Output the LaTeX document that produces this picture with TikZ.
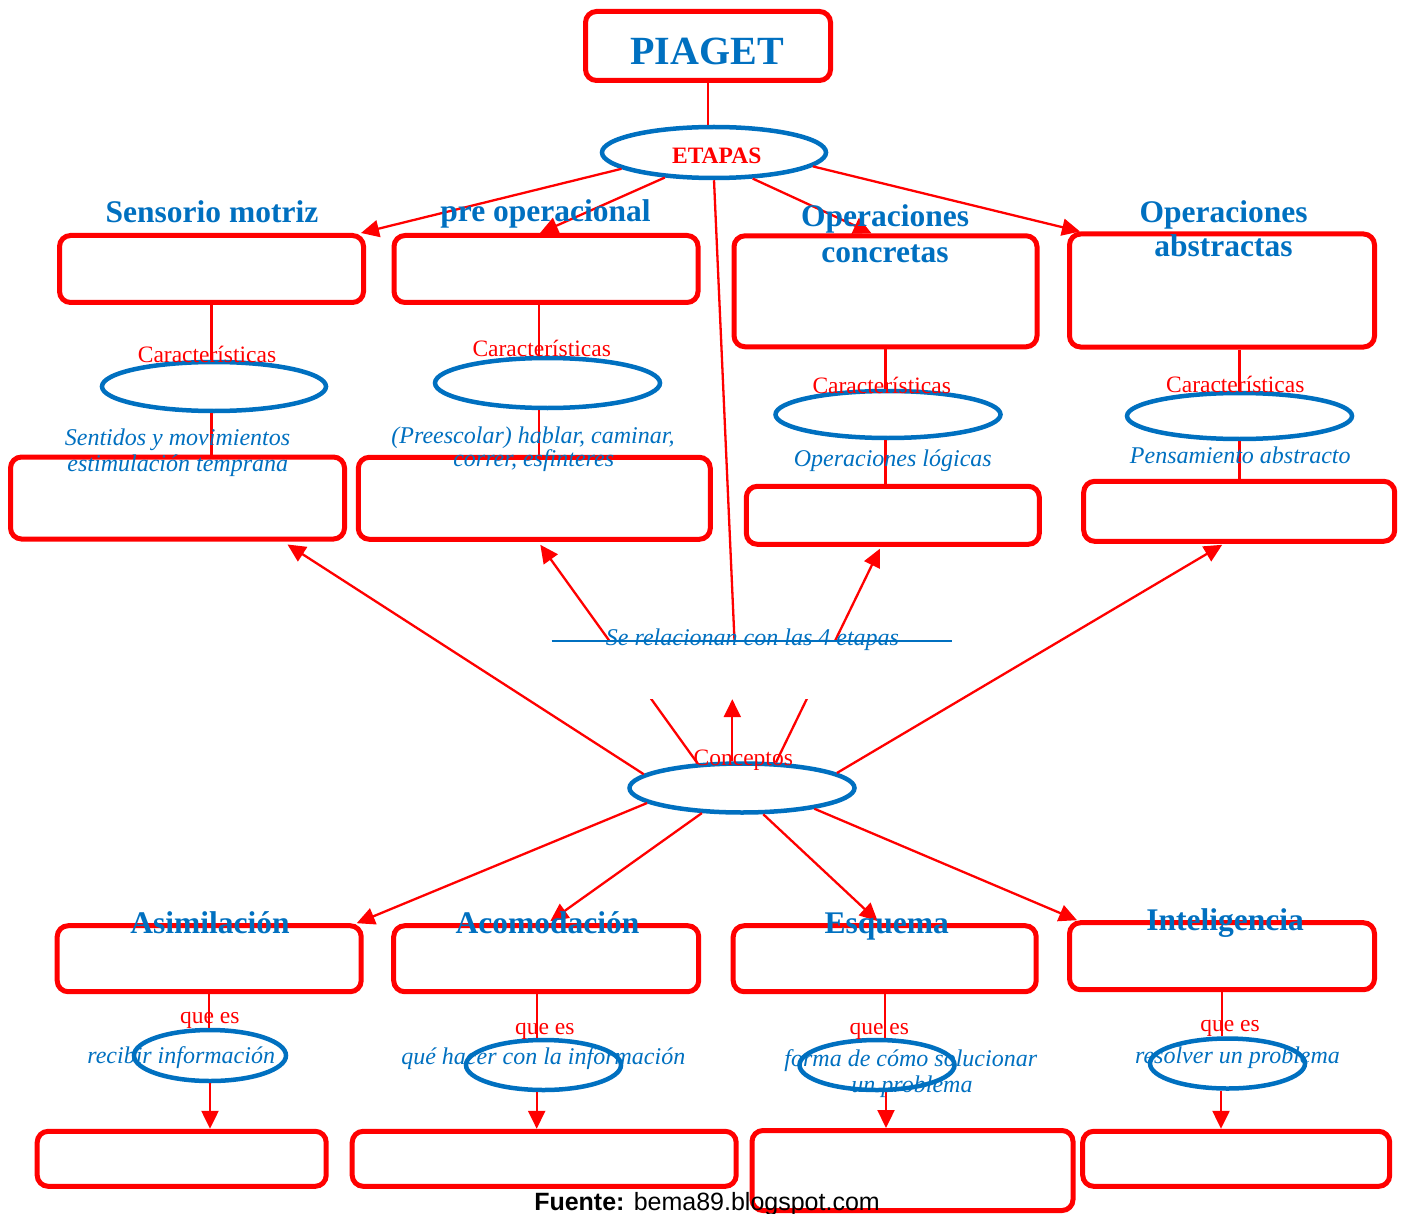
\documentclass[tikz,border=0pt]{standalone}
\usepackage{fontspec}
\setmainfont{Liberation Serif}
\newfontfamily\arialfont{Liberation Sans}
\usetikzlibrary{shapes.geometric,arrows.meta,calc}
\definecolor{wblue}{RGB}{0,112,192}
\definecolor{wred}{RGB}{255,0,0}
\begin{document}
\begin{tikzpicture}[x=1pt,y=-1pt,
 box/.style={draw=wred, line width=5pt, rounded corners=11pt, inner sep=0pt},
 ell/.style={ellipse, draw=wblue, line width=4.5pt, inner sep=0pt},
 conn/.style={draw=wred, line width=2.3pt},
 arr/.style={conn, -{Triangle[length=18pt,width=17pt]}},
 ttl/.style={text=wblue, font=\fontsize{31.5}{34}\selectfont\bfseries, inner sep=0pt, anchor=base},
 lbl/.style={text=wred, font=\fontsize{23.5}{26}\selectfont, inner sep=0pt, anchor=base},
 desc/.style={text=wblue, font=\fontsize{24}{27}\selectfont\itshape, inner sep=0pt, anchor=base},
]
\useasboundingbox[fill=white] (0,0) rectangle (1404,1214);

% ---------- top ----------
\node[box, minimum width=245, minimum height=69] (piaget) at (708,46) {};
\node[ell, minimum width=224, minimum height=51] (etapas) at (714,152.5) {};

% stage boxes
\node[box, minimum width=304, minimum height=67] (sens) at (211.5,269) {};
\node[box, minimum width=304, minimum height=67] (preop) at (546,269) {};
\node[box, minimum width=303, minimum height=111] (opc) at (885.5,291.3) {};
\node[box, minimum width=305, minimum height=113] (opa) at (1222,290.5) {};

% characteristic ellipses
\node[ell, minimum width=224, minimum height=49] (sell) at (214,386.5) {};
\node[ell, minimum width=225, minimum height=50] (pell) at (547.5,383) {};
\node[ell, minimum width=225, minimum height=47] (cell) at (888,414.5) {};
\node[ell, minimum width=225, minimum height=46] (aell) at (1239.5,416) {};

% description boxes
\node[box, minimum width=334, minimum height=82] (sensd) at (177.5,498) {};
\node[box, minimum width=352, minimum height=82] (preopd) at (534.3,498.3) {};
\node[box, minimum width=293, minimum height=58] (opcd) at (892.8,515.3) {};
\node[box, minimum width=311, minimum height=60] (opad) at (1239.2,511.3) {};

% concepts
\node[ell, minimum width=225, minimum height=49] (conc) at (742,788) {};

% concept boxes
\node[box, minimum width=304, minimum height=66] (asim) at (209.2,958.7) {};
\node[box, minimum width=305, minimum height=66] (acom) at (546.2,958.7) {};
\node[box, minimum width=303, minimum height=66] (esq) at (884.7,958.7) {};
\node[box, minimum width=305, minimum height=67] (intel) at (1222,956.2) {};

\node[ell, minimum width=152, minimum height=51] (e1) at (210,1055.5) {};
\node[ell, minimum width=155, minimum height=50] (e2) at (543.5,1065) {};
\node[ell, minimum width=155, minimum height=50] (e3) at (877,1065) {};
\node[ell, minimum width=155, minimum height=50] (e4) at (1227.5,1063.5) {};

\node[box, minimum width=289, minimum height=55] (b1) at (181.7,1158.8) {};
\node[box, minimum width=384, minimum height=55] (b2) at (544.2,1158.8) {};
\node[box, minimum width=321, minimum height=80] (b3) at (912.5,1170.5) {};
\node[box, minimum width=307, minimum height=55] (b4) at (1236.2,1158.8) {};

% ---------- connectors ----------
\draw[conn] (piaget.south) -- (piaget.south |- etapas.north);
\draw[arr] (etapas.190) -- ($(sens.north east)+(-5,0)$);
\draw[arr] (etapas.207) -- ($(preop.north)+(-6,0)$);
\draw[arr] (etapas.326) -- ($(opc.north)+(-14,0)$);
\draw[arr] (etapas.352) -- ($(opa.north west)+(13,0)$);

\draw[conn] (sens.south) -- (sens.south |- sell.north);
\draw[conn] (sell.south -| sens.south) -- (sens.south |- sensd.north);
\draw[conn] ([xshift=-7pt]preop.south) -- ([xshift=-7pt]preop.south |- pell.north);
\draw[conn] ([xshift=-8.5pt]pell.south) -- ([xshift=-8.5pt]pell.south |- preopd.north);
\draw[conn] (opc.south) -- (opc.south |- cell.north);
\draw[conn] (cell.south -| opc.south) -- (opc.south |- opcd.north);
\draw[conn] (aell.north |- opa.south) -- (aell.north);
\draw[conn] (aell.south) -- (aell.south |- opad.north);

% concepts to stages
\draw[arr] (conc.172) -- ($(sensd.south)+(110,3)$);
\draw[arr] (conc.151) -- ($(preopd.south)+(6,3)$);
\draw[arr] (conc.37) -- ($(opcd.south)+(-13,2)$);
\draw[arr] (conc.9) -- ($(opad.south)+(-17,1)$);

% text box of the relation
\node[fill=white, inner sep=0pt, minimum width=400, minimum height=58] (rel) at (751.7,670) {};
\draw[conn] (etapas.south) -- ($(rel.north west)+(183,0)$);
\draw[arr] (conc.110) -- (conc.110 |- rel.south);
\draw[draw=wblue, line width=2pt] (rel.north west) -- (rel.north east);

% concepts to concept boxes
\draw[arr] (conc.189.5) -- ($(asim.north east)+(-7,0)$);
\draw[arr] (conc.212) -- ($(acom.north)+(4,-2)$);
\draw[arr] (conc.309) -- ($(esq.north)+(-7,-2)$);
\draw[arr] (conc.344) -- ($(intel.north west)+(10,0)$);

\draw[conn] (asim.south) -- (asim.south |- e1.north);
\draw[arr] (e1.south) -- (e1.south |- b1.north);
\draw[conn] ([xshift=-9.5pt]acom.south) -- ([xshift=-9.5pt]acom.south |- e2.north);
\draw[arr] ([xshift=-6.8pt]e2.south) -- ([xshift=-6.8pt]e2.south |- b2.north);
\draw[conn] (esq.south) -- (esq.south |- e3.north);
\draw[arr] ([xshift=9pt]e3.south) -- ([xshift=9pt]e3.south |- b3.north);
\draw[conn] (intel.south) -- (intel.south |- e4.north);
\draw[arr] ([xshift=-6.5pt]e4.south) -- ([xshift=-6.5pt]e4.south |- b4.north);

% ---------- texts ----------
\node[text=wblue, font=\fontsize{40}{44}\selectfont\bfseries, inner sep=0pt, anchor=base] (piagett) at (707,65) {PIAGET};
\node[text=wred, font=\fontsize{23.5}{26}\selectfont\bfseries, inner sep=0pt, anchor=base] (etapast) at (716.7,163.3) {ETAPAS};

\node[ttl] (senst) at (212,223) {Sensorio motriz};
\node[ttl] (preopt) at (545.5,222) {pre operacional};
\node[ttl] (opct1) at (885,227) {Operaciones};
\node[ttl] (opct2) at (885,263) {concretas};
\node[ttl] (opat1) at (1223.5,223) {Operaciones};
\node[ttl] (opat2) at (1223.5,257) {abstractas};

\node[lbl] (c1) at (207,362) {Características};
\node[lbl] (c2) at (541.7,356.7) {Características};
\node[lbl] (c3) at (881.7,393) {Características};
\node[lbl] (c4) at (1235.3,392.7) {Características};

\node[desc] (d1a) at (177.5,445) {Sentidos y movimientos};
\node[desc] (d1b) at (177.8,471.7) {estimulación temprana};
\node[desc] (d2a) at (533,443.3) {(Preescolar) hablar, caminar,};
\node[desc] (d2b) at (533.7,466.7) {correr, esfinteres};
\node[desc] (d3) at (892.8,466.7) {Operaciones lógicas};
\node[desc] (d4) at (1240.3,463.3) {Pensamiento abstracto};

\node[desc] (relt) at (752.5,645) {Se relacionan con las 4 etapas};
\node[lbl] (conct) at (743.3,765) {Conceptos};

\node[ttl] (asimt) at (210,933.3) {Asimilación};
\node[ttl] (acomt) at (547.5,933.3) {Acomodación};
\node[ttl] (esqt) at (886.7,933.3) {Esquema};
\node[ttl] (intelt) at (1225,930) {Inteligencia};

\node[lbl] (q1) at (209.7,1023.3) {que es};
\node[lbl] (q2) at (544.7,1034) {que es};
\node[lbl] (q3) at (879.3,1034) {que es};
\node[lbl] (q4) at (1230,1031.7) {que es};

\node[desc] (r1) at (181.2,1063.3) {recibir información};
\node[desc] (r2) at (543.3,1064) {qué hacer con la información};
\node[desc] (r3a) at (910.8,1066) {forma de cómo solucionar};
\node[desc] (r3b) at (912,1092.7) {un problema};
\node[desc] (r4) at (1237.5,1063.3) {resolver un problema};

\node[inner sep=0pt, anchor=base, font=\arialfont\fontsize{25}{28}\selectfont] (fuente) at (707,1210) {\textbf{Fuente:} bema89.blogspot.com};
\end{tikzpicture}
\end{document}
